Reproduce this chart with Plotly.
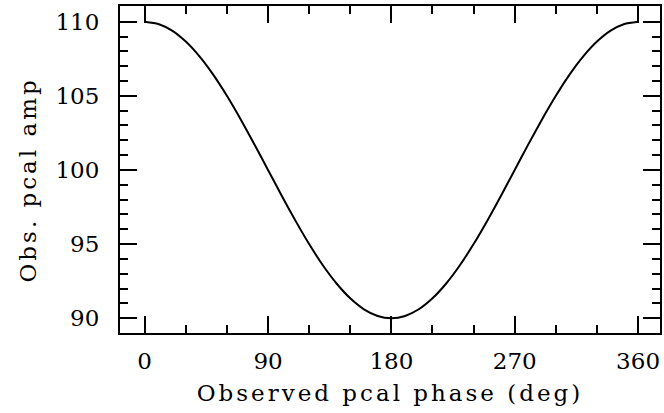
import plotly.graph_objects as go

phase_deg = [0, 10, 20, 30, 40, 50, 60, 70, 80, 90, 100, 110, 120, 130, 140, 150, 160, 170, 180,
             190, 200, 210, 220, 230, 240, 250, 260, 270, 280, 290, 300, 310, 320, 330, 340, 350, 360]
amp = [110.0, 109.85, 109.40, 108.66, 107.66, 106.43, 105.0, 103.42, 101.74, 100.0,
       98.26, 96.58, 95.0, 93.57, 92.34, 91.34, 90.60, 90.15, 90.0,
       90.15, 90.60, 91.34, 92.34, 93.57, 95.0, 96.58, 98.26, 100.0,
       101.74, 103.42, 105.0, 106.43, 107.66, 108.66, 109.40, 109.85, 110.0]
x_ticks = [0, 90, 180, 270, 360]
y_ticks = [90, 95, 100, 105, 110]
x_title = "Observed pcal phase (deg)"
y_title = "Obs. pcal amp"

font_fam = "DejaVu Serif"

fig = go.Figure()
fig.add_trace(go.Scatter(x=phase_deg, y=amp, mode="lines",
                         line=dict(color="black", width=2, shape="spline", smoothing=0.6),
                         showlegend=False, hoverinfo="skip"))

axis_common = dict(
    showgrid=False, zeroline=False, showline=True, linecolor="black", linewidth=2,
    mirror="allticks", ticks="inside", ticklen=17, tickwidth=2, tickcolor="black",
    tickfont=dict(family=font_fam, size=23, color="black"), automargin=False,
)

fig.update_xaxes(range=[-18, 376], tickvals=x_ticks, ticktext=[str(v) for v in x_ticks],
                 minor=dict(dtick=30, tick0=0, ticks="inside", ticklen=8, tickwidth=2, tickcolor="black"),
                 title=dict(text=x_title, font=dict(family=font_fam, size=23, color="black"), standoff=12),
                 ticklabelstandoff=6,
                 **axis_common)
fig.update_yaxes(range=[89.0, 111.06], tickvals=y_ticks, ticktext=[str(v) for v in y_ticks],
                 minor=dict(dtick=1, tick0=90, ticks="inside", ticklen=8, tickwidth=2, tickcolor="black"),
                 ticklabelstandoff=14,
                 **axis_common)

fig.add_annotation(text=y_title, xref="paper", yref="paper",
                   x=(28 - 120) / 540, y=1 - (180 - 6) / 327,
                   xanchor="center", yanchor="middle", textangle=-90, showarrow=False,
                   font=dict(family=font_fam, size=23, color="black"))

fig.update_layout(width=664, height=413, margin=dict(l=120, r=4, t=6, b=80, autoexpand=False),
                  plot_bgcolor="white", paper_bgcolor="white")

post_js = (
    "document.body.style.margin='0';"
    "document.querySelectorAll('.xtitle, .annotation-text').forEach(function(e){"
    "e.style.letterSpacing='3px';});"
)
fig.write_html("out.html", post_script=post_js, config={"displayModeBar": False})
